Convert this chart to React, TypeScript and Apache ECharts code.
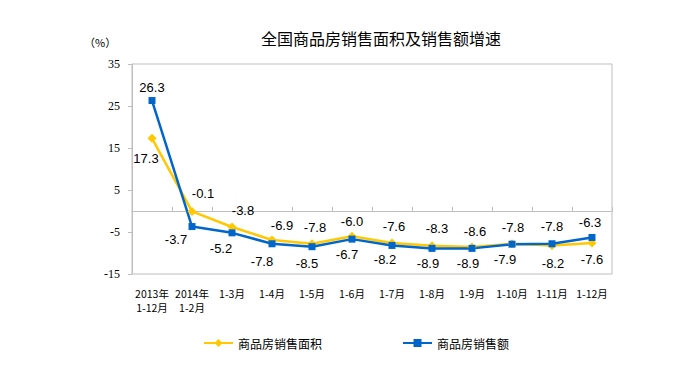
import React, { useEffect, useRef } from "react";
import * as echarts from "echarts";

const categories = [
  "2013年\n1-12月",
  "2014年\n1-2月",
  "1-3月",
  "1-4月",
  "1-5月",
  "1-6月",
  "1-7月",
  "1-8月",
  "1-9月",
  "1-10月",
  "1-11月",
  "1-12月",
];
const areaGrowth = [17.3, -0.1, -3.8, -6.9, -7.8, -6.0, -7.6, -8.3, -8.6, -7.8, -8.2, -7.6];
const salesGrowth = [26.3, -3.7, -5.2, -7.8, -8.5, -6.7, -8.2, -8.9, -8.9, -7.9, -7.8, -6.3];

const areaLabelPos = ["bottom", "top", "top", "top", "top", "top", "top", "top", "top", "top", "bottom", "bottom"];
const areaLabelOffset = [[-6, 4], [11, -2], [11, 0], [10, 2], [3, 0], [0, 1], [2, 0], [5, -1], [3, 0], [1, 0], [1, 2], [0, 1]];
const salesLabelPos = ["top", "bottom", "bottom", "bottom", "bottom", "bottom", "bottom", "bottom", "bottom", "bottom", "top", "top"];
const salesLabelOffset = [[0, 2], [-16, -2], [-11, 1], [-10, 3], [-5, 2], [-5, 0], [-7, -1], [-4, 0], [-4, 0], [-7, 0], [0, -2], [-2, 0]];

const YELLOW = "#FFC800";
const BLUE = "#0066CC";
const GRAY = "#BFBFBF";

export default function App() {
  const ref = useRef<HTMLDivElement>(null);
  useEffect(() => {
    if (!ref.current) return;
    const chart = echarts.init(ref.current, null, { renderer: "svg" });
    const mk = (vals: number[], pos: string[], offs: number[][]) =>
      vals.map((v, i) => ({
        value: v,
        label: { position: pos[i], offset: offs[i] },
      }));
    const labelStyle = {
      show: true,
      distance: 5,
      fontSize: 13,
      fontFamily: "Liberation Sans",
      color: "#000",
      formatter: (p: any) => Number(p.value).toFixed(1),
    };
    chart.setOption({
      animation: false,
      backgroundColor: "#fff",
      title: {
        text: "全国商品房销售面积及销售额增速",
        left: 256,
        top: 25,
        textStyle: {
          fontSize: 16,
          fontWeight: "normal",
          color: "#000",
          fontFamily: "Noto Sans CJK SC",
        },
      },
      graphic: [
        {
          type: "text",
          left: 84,
          top: 36,
          style: {
            text: "（%）",
            fontSize: 11,
            fill: "#000",
            fontFamily: "Noto Sans CJK SC",
          },
        },
      ],
      legend: {
        left: 198,
        top: 332,
        itemWidth: 29,
        itemHeight: 10,
        itemGap: 80,
        textStyle: {
          fontSize: 12,
          color: "#000",
          fontFamily: "Noto Sans CJK SC",
        },
        data: ["商品房销售面积", "商品房销售额"],
      },
      grid: {
        left: 132,
        right: 80,
        top: 64,
        bottom: 94,
        show: true,
        borderColor: GRAY,
        borderWidth: 1,
        containLabel: false,
        outerBoundsMode: "none",
      },
      xAxis: {
        type: "category",
        data: categories,
        boundaryGap: true,
        axisLine: { show: true, onZero: true, lineStyle: { color: GRAY, width: 1 } },
        axisTick: { show: true, inside: true, length: 4, lineStyle: { color: GRAY } },
        axisLabel: {
          interval: 0,
          margin: 12,
          fontSize: 10.5,
          lineHeight: 14,
          color: "#000",
          fontFamily: "Noto Sans CJK SC",
        },
        splitLine: { show: false },
      },
      yAxis: {
        type: "value",
        min: -15,
        max: 35,
        interval: 10,
        axisLine: { show: true, lineStyle: { color: GRAY } },
        axisTick: { show: true, length: 4, lineStyle: { color: GRAY } },
        axisLabel: {
          margin: 12,
          fontSize: 12,
          color: "#000",
          fontFamily: "Liberation Serif",
        },
        splitLine: { show: false },
      },
      series: [
        {
          name: "商品房销售面积",
          type: "line",
          data: mk(areaGrowth, areaLabelPos, areaLabelOffset),
          symbol: "diamond",
          symbolSize: 9,
          itemStyle: { color: YELLOW },
          lineStyle: { color: YELLOW, width: 2.5 },
          label: labelStyle,
        },
        {
          name: "商品房销售额",
          type: "line",
          data: mk(salesGrowth, salesLabelPos, salesLabelOffset),
          symbol: "rect",
          symbolSize: 7,
          itemStyle: { color: BLUE },
          lineStyle: { color: BLUE, width: 2.5 },
          label: labelStyle,
        },
      ],
    });
    return () => chart.dispose();
  }, []);
  return (
    <div
      ref={ref}
      style={{ position: "fixed", left: 0, top: 0, width: 692, height: 368 }}
    />
  );
}
